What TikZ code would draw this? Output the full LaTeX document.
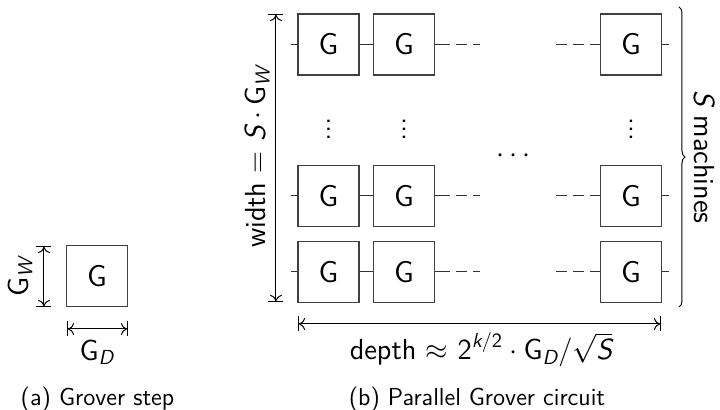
\documentclass[tikz,border=0pt]{standalone}
\usepackage{amsmath}
\usetikzlibrary{decorations.pathreplacing,arrows.meta}
\renewcommand{\familydefault}{\sfdefault}
% slanted sans letters that shrink properly in sub- and superscripts
\newcommand{\isl}[1]{\text{\sffamily\slshape #1}}
\begin{document}
\begin{tikzpicture}[x=0.5pt,y=-0.5pt,
  gate/.style={draw=black!75, line width=0.55pt, minimum size=30.5pt, inner sep=0pt, font=\fontsize{15}{17}\selectfont},
  wire/.style={line width=0.5pt, black!80},
  dashwire/.style={line width=0.5pt, black!80, dash pattern=on 5.5pt off 3pt},
  dim/.style={line width=0.5pt, {Bar[width=7.5pt]To[length=3pt,width=6pt]}-{To[length=3pt,width=6pt]Bar[width=7.5pt]}},
  lbl/.style={font=\fontsize{14.5}{17}\selectfont, inner sep=0pt},
  captext/.style={font=\fontsize{12.3}{14}\selectfont, inner sep=0pt}]
\useasboundingbox (0,0) rectangle (720,410);

% (a) a single Grover step
\node[gate] (g0) at (97,276) {G};
\coordinate (wt) at (44,246);
\coordinate (wb) at (44,307);
\draw[dim] (wt) -- (wb);
\node[lbl, rotate=90] (gw) at (20,277) {G$_{\isl{W}}$};
\coordinate (dl) at (67,329);
\coordinate (dr) at (128,329);
\draw[dim] (dl) -- (dr);
\node[lbl] (gd) at (97,352) {G$_{\isl{D}}$};
\node[captext] (capa) at (97.5,399) {(a) Grover step};

% (b) S machines running Grover steps in parallel
\foreach \r/\y in {1/44.5, 3/196, 4/272} {
  \node[gate] (b\r1) at (328.5,\y) {G};
  \node[gate] (b\r2) at (404,\y) {G};
  \node[gate] (b\r3) at (631,\y) {G};
  \coordinate (l\r) at (291,\y);
  \coordinate (s\r) at (450,\y);
  \coordinate (e\r) at (480,\y);
  \coordinate (f\r) at (556,\y);
  \coordinate (r\r) at (669,\y);
  \draw[wire] (l\r) -- (b\r1.west);
  \draw[wire] (b\r1.east) -- (b\r2.west);
  \draw[wire] (b\r2.east) -- (s\r);
  \draw[dashwire, dash phase=5.5pt] (s\r) -- (e\r);
  \draw[dashwire] (f\r) -- (b\r3.west);
  \draw[wire] (b\r3.east) -- (r\r);
}
\foreach \c in {1,2,3} {
  \node[lbl] (v\c) at (b1\c |- 0,123) {$\vdots$};
}
\node[lbl] (hd) at (516,156) {$\cdots$};

\coordinate (ht) at (276,14);
\coordinate (hb) at (276,302);
\draw[dim] (ht) -- (hb);
\node[lbl, rotate=90] (wl) at (257,157) {width $=$ $\isl{S}\cdot\text{G}_{\isl{W}}$};

\coordinate (xl) at (298,324);
\coordinate (xr) at (661,324);
\draw[dim] (xl) -- (xr);
\node[lbl] (dlb) at (481,350) {depth $\approx$ $\text{2}^{\isl{k}/\text{2}}\cdot\text{G}_{\isl{D}}/\sqrt{\isl{S}}$};

\coordinate (bt) at (679,7);
\coordinate (bb) at (679,307);
\draw[line width=0.5pt, decorate, decoration={brace, amplitude=3pt}] (bt) -- (bb);
\node[lbl, rotate=-90] (sm) at (705,157) {\isl{S} machines};

\node[captext] (capb) at (477,399) {(b) Parallel Grover circuit};
\end{tikzpicture}
\end{document}
